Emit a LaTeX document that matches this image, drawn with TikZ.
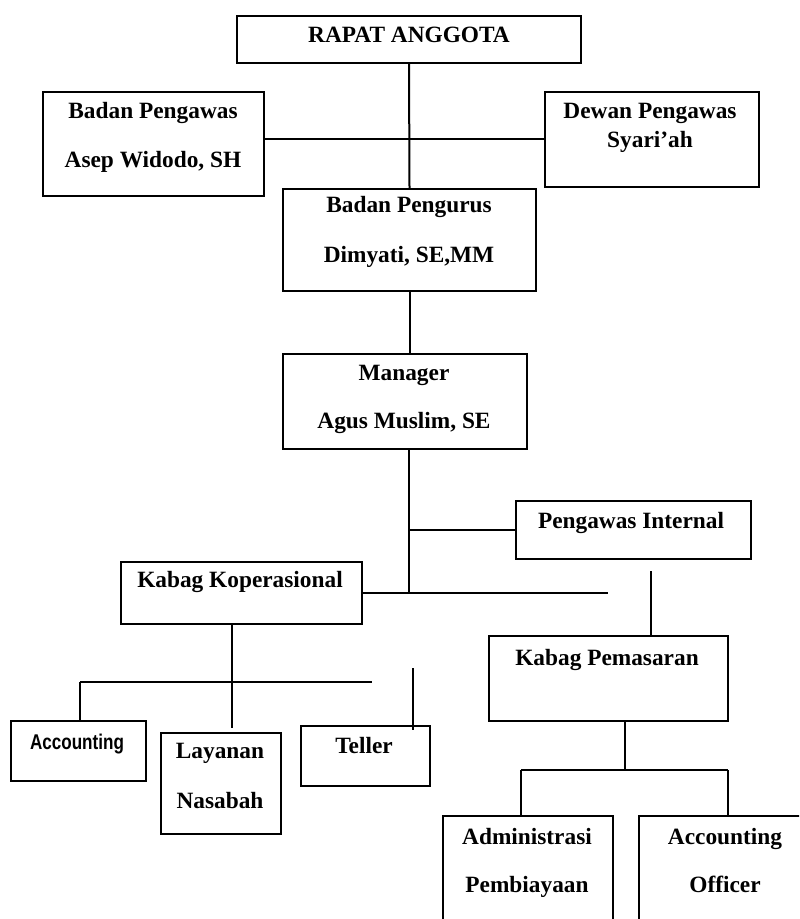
\documentclass[tikz,border=0pt]{standalone}
\usepackage{fontspec}
\usepackage{graphicx}
\setmainfont{Liberation Serif}
\newfontfamily\narrowsans{Liberation Sans}
\usetikzlibrary{fit}

\tikzset{
  unit/.style={draw, line width=1.5pt, inner sep=0pt},
  boxtext/.style={anchor=base, inner sep=0pt, font=\fontsize{17.5}{20}\selectfont\bfseries},
  link/.style={line width=1.5pt},
}

\begin{document}
\begin{tikzpicture}[x=0.75pt, y=-0.75pt]
    \useasboundingbox (0,0) rectangle (799,919);
    \clip (0,0) rectangle (799,919);

    % boxes
    \node[unit, fit={(237,16) (581,63)}] (rapat) {};
    \node[unit, fit={(43,92) (264,196)}] (pengawas) {};
    \node[unit, fit={(545,92) (759,187)}] (dewan) {};
    \node[unit, fit={(283,189) (536,291)}] (pengurus) {};
    \node[unit, fit={(283,354) (527,449)}] (manager) {};
    \node[unit, fit={(516,501) (751,559)}] (internal) {};
    \node[unit, fit={(121,562) (362,624)}] (kop) {};
    \node[unit, fit={(489,636) (728,721)}] (pemasaran) {};
    \node[unit, fit={(11,721) (146,781)}] (accounting) {};
    \node[unit, fit={(161,733) (281,834)}] (layanan) {};
    \node[unit, fit={(301,726) (430,786)}] (teller) {};
    \node[unit, fit={(443,816) (613,940)}] (admin) {};
    \node[unit, fit={(639,816) (811,940)}] (officer) {};

    % texts
    \node[boxtext] (rapatA) at (409,43) {RAPAT ANGGOTA};
    \node[boxtext] (pengawasA) at (153,119) {Badan Pengawas};
    \node[boxtext] (pengawasB) at (153,168) {Asep Widodo, SH};
    \node[boxtext] (dewanA) at (650,119) {Dewan Pengawas};
    \node[boxtext] (dewanB) at (650,148) {Syari’ah};
    \node[boxtext] (pengurusA) at (409,213) {Badan Pengurus};
    \node[boxtext] (pengurusB) at (409,263) {Dimyati, SE,MM};
    \node[boxtext] (managerA) at (404,380) {Manager};
    \node[boxtext] (managerB) at (404,428) {Agus Muslim, SE};
    \node[boxtext] (internalA) at (631,528) {Pengawas Internal};
    \node[boxtext] (kopA) at (240,587) {Kabag Koperasional};
    \node[boxtext] (pemasaranA) at (607,665) {Kabag Pemasaran};
    \node[anchor=base, inner sep=0pt, font=\narrowsans\bfseries\fontsize{16}{19}\selectfont]
        (accountingA) at (77,749) {\scalebox{0.8}[1]{Accounting}};
    \node[boxtext] (layananA) at (220,758) {Layanan};
    \node[boxtext] (layananB) at (220,808) {Nasabah};
    \node[boxtext] (tellerA) at (364,753) {Teller};
    \node[boxtext] (adminA) at (527,844) {Administrasi};
    \node[boxtext] (adminB) at (527,892) {Pembiayaan};
    \node[boxtext] (officerA) at (725,844) {Accounting};
    \node[boxtext] (officerB) at (725,892) {Officer};

    % free ends of the lines
    \coordinate (spine) at (409,593);
    \coordinate (kopEnd) at (608,593);
    \coordinate (pemTop) at (651,571);
    \coordinate (kopDrop) at (232,728);
    \coordinate (busL) at (80,682);
    \coordinate (busR) at (372,682);
    \coordinate (tellTop) at (413,668);
    \coordinate (pemBus) at (625,770);
    \coordinate (busA) at (521,770);
    \coordinate (busB) at (728,770);

    % lines
    \draw[link] (rapat.south) -- (pengurus.north);
    \draw[link] (pengawas.east |- dewan.west) -- (dewan.west);
    \draw[link] (pengurus.south) -- (pengurus.south |- manager.north);
    \draw[link] (spine |- manager.south) -- (spine);
    \draw[link] (kop.east) -- (kopEnd);
    \draw[link] (spine |- internal.west) -- (internal.west);
    \draw[link] (pemTop) -- (pemTop |- pemasaran.north);
    \draw[link] (kopDrop |- kop.south) -- (kopDrop);
    \draw[link] (busL) -- (busR);
    \draw[link] (busL) -- (busL |- accounting.north);
    \draw[link] (tellTop) -- ([yshift=-4]tellTop |- teller.north);
    \draw[link] (pemBus |- pemasaran.south) -- (pemBus);
    \draw[link] (busA) -- (busB);
    \draw[link] (busA) -- (busA |- admin.north);
    \draw[link] (busB) -- (busB |- officer.north);
\end{tikzpicture}
\end{document}
